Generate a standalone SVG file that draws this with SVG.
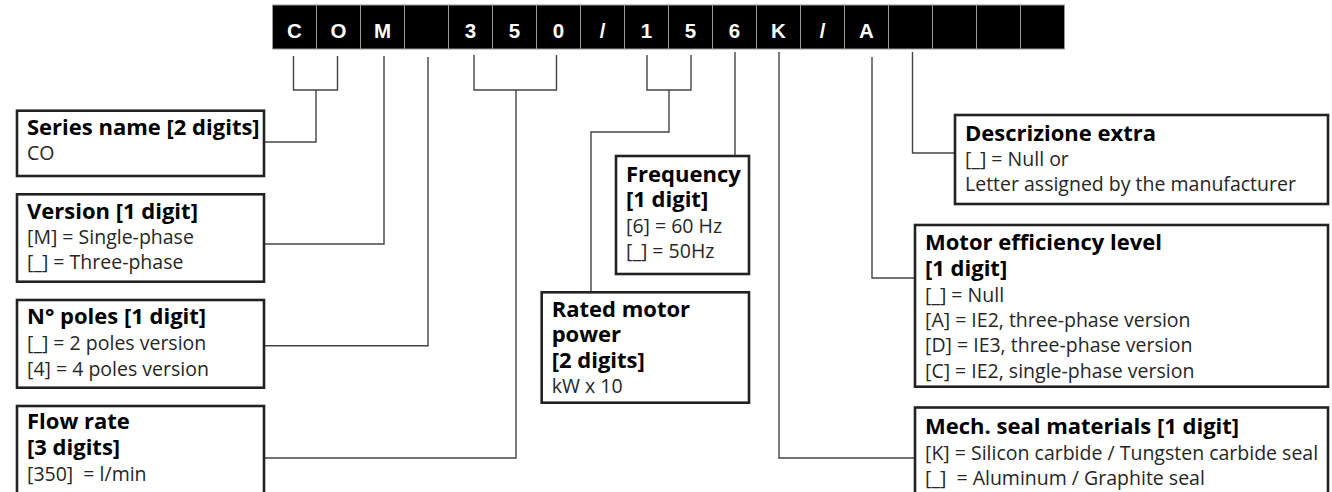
<svg xmlns="http://www.w3.org/2000/svg" width="1332" height="492" viewBox="0 0 1332 492">
<style>
.cell{fill:#000;stroke:#9a9a9a;stroke-width:1}
.ct{font-family:"Liberation Sans",Arial,sans-serif;font-weight:bold;font-size:20.5px;fill:#fff;text-anchor:middle}
.box{fill:#fff;stroke:#222;stroke-width:2.6}
.h{font-family:"Open Sans","Noto Sans",sans-serif;font-weight:bold;font-size:22px;fill:#000}
.t{font-family:"Open Sans","Noto Sans",sans-serif;font-size:19.5px;fill:#262626;white-space:pre}
.cn{fill:none;stroke:#444;stroke-width:1.4}
</style>
<rect width="1332" height="492" fill="#fff"/>
<g id="code">
<rect class="cell" x="272.5" y="5" width="44" height="44"/>
<rect class="cell" x="316.5" y="5" width="44" height="44"/>
<rect class="cell" x="360.5" y="5" width="44" height="44"/>
<rect class="cell" x="404.5" y="5" width="44" height="44"/>
<rect class="cell" x="448.5" y="5" width="44" height="44"/>
<rect class="cell" x="492.5" y="5" width="44" height="44"/>
<rect class="cell" x="536.5" y="5" width="44" height="44"/>
<rect class="cell" x="580.5" y="5" width="44" height="44"/>
<rect class="cell" x="624.5" y="5" width="44" height="44"/>
<rect class="cell" x="668.5" y="5" width="44" height="44"/>
<rect class="cell" x="712.5" y="5" width="44" height="44"/>
<rect class="cell" x="756.5" y="5" width="44" height="44"/>
<rect class="cell" x="800.5" y="5" width="44" height="44"/>
<rect class="cell" x="844.5" y="5" width="44" height="44"/>
<rect class="cell" x="888.5" y="5" width="44" height="44"/>
<rect class="cell" x="932.5" y="5" width="44" height="44"/>
<rect class="cell" x="976.5" y="5" width="44" height="44"/>
<rect class="cell" x="1020.5" y="5" width="44" height="44"/>
<text class="ct" x="294.5" y="37.5">C</text>
<text class="ct" x="338.5" y="37.5">O</text>
<text class="ct" x="382.5" y="37.5">M</text>
<text class="ct" x="470.5" y="37.5">3</text>
<text class="ct" x="514.5" y="37.5">5</text>
<text class="ct" x="558.5" y="37.5">0</text>
<text class="ct" x="602.5" y="37.5">/</text>
<text class="ct" x="646.5" y="37.5">1</text>
<text class="ct" x="690.5" y="37.5">5</text>
<text class="ct" x="734.5" y="37.5">6</text>
<text class="ct" x="778.5" y="37.5">K</text>
<text class="ct" x="822.5" y="37.5">/</text>
<text class="ct" x="866.5" y="37.5">A</text>
</g>
<g id="connectors">
<path class="cn" d="M293.5,56V90H337.5V56M316,90V142H264"/>
<path class="cn" d="M384,56V244H264"/>
<path class="cn" d="M428,57V345.7H264"/>
<path class="cn" d="M474,55V90H556.5V55M516,90V458H264"/>
<path class="cn" d="M647,55V90H691V55M669,90V132H591V292"/>
<path class="cn" d="M735,52V156"/>
<path class="cn" d="M779,52V458H915"/>
<path class="cn" d="M872,57V278H915"/>
<path class="cn" d="M912.5,52V153H955"/>
</g>
<g id="series">
<rect class="box" x="17" y="110.7" width="247" height="65.3"/>
<text class="h" x="27" y="135">Series name [2 digits]</text>
<text class="t" x="27" y="160">CO</text>
</g>
<g id="version">
<rect class="box" x="17" y="194.3" width="247" height="87.4"/>
<text class="h" x="27" y="219.3">Version [1 digit]</text>
<text class="t" x="27" y="244.3">[M] = Single-phase</text>
<text class="t" x="27" y="269.3">[_] = Three-phase</text>
</g>
<g id="poles">
<rect class="box" x="17" y="300" width="247" height="87.7"/>
<text class="h" x="27" y="324.3">N° poles [1 digit]</text>
<text class="t" x="27" y="350">[_] = 2 poles version</text>
<text class="t" x="27" y="375.5">[4] = 4 poles version</text>
</g>
<g id="flow">
<rect class="box" x="17" y="406" width="247" height="100"/>
<text class="h" x="27" y="429.3">Flow rate</text>
<text class="h" x="27" y="455">[3 digits]</text>
<text class="t" x="27" y="481">[350]  = l/min</text>
</g>
<g id="frequency">
<rect class="box" x="616" y="156" width="133" height="118"/>
<text class="h" x="626" y="181.7">Frequency</text>
<text class="h" x="626" y="207">[1 digit]</text>
<text class="t" x="626" y="233">[6] = 60 Hz</text>
<text class="t" x="626" y="258">[_] = 50Hz</text>
</g>
<g id="power">
<rect class="box" x="541.7" y="292.3" width="207.3" height="110.4"/>
<text class="h" x="551.7" y="316.7">Rated motor</text>
<text class="h" x="551.7" y="342">power</text>
<text class="h" x="551.7" y="367.5">[2 digits]</text>
<text class="t" x="551.7" y="393">kW x 10</text>
</g>
<g id="extra">
<rect class="box" x="955" y="115" width="373" height="89"/>
<text class="h" x="965" y="140.7">Descrizione extra</text>
<text class="t" x="965" y="165.7">[_] = Null or</text>
<text class="t" x="965" y="190.7">Letter assigned by the manufacturer</text>
</g>
<g id="efficiency">
<rect class="box" x="915" y="225" width="413" height="161.7"/>
<text class="h" x="925" y="250">Motor efficiency level</text>
<text class="h" x="925" y="276">[1 digit]</text>
<text class="t" x="925" y="301.7">[_] = Null</text>
<text class="t" x="925" y="326.7">[A] = IE2, three-phase version</text>
<text class="t" x="925" y="352.3">[D] = IE3, three-phase version</text>
<text class="t" x="925" y="378">[C] = IE2, single-phase version</text>
</g>
<g id="seal">
<rect class="box" x="915" y="407.5" width="413" height="100"/>
<text class="h" x="925" y="434">Mech. seal materials [1 digit]</text>
<text class="t" x="925" y="459.5">[K] = Silicon carbide / Tungsten carbide seal</text>
<text class="t" x="925" y="485">[_]  = Aluminum / Graphite seal</text>
</g>
</svg>
